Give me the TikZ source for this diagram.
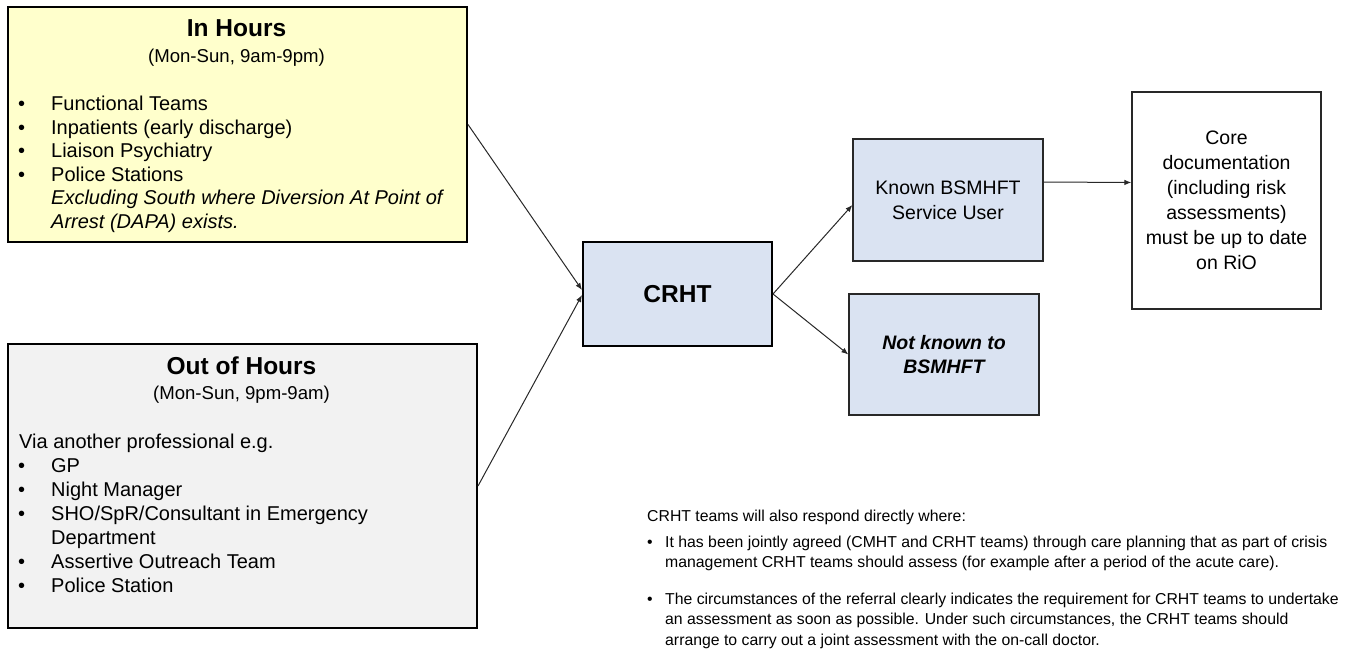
\documentclass[tikz,border=0pt]{standalone}
\usepackage{fontspec}
\setmainfont{Liberation Sans}
\usetikzlibrary{arrows.meta,calc}
\definecolor{InClr}{RGB}{255,255,204}
\definecolor{OutClr}{RGB}{242,242,242}
\definecolor{TeamClr}{RGB}{218,227,242}
\definecolor{LineClr}{RGB}{40,40,40}

\tikzset{
  panel/.style={draw=black,line width=2pt,inner sep=0pt,anchor=north west},
  unit/.style={draw=LineClr,line width=1.3pt,fill=TeamClr,inner sep=0pt,align=center,
    font=\fontsize{19.5}{25}\selectfont},
  heading/.style={anchor=base,inner sep=0pt,font=\bfseries\fontsize{24.5}{29}\selectfont},
  hours/.style={anchor=base,inner sep=0pt,font=\fontsize{18.6}{22}\selectfont},
  items/.style={anchor=base west,inner sep=0pt,font=\fontsize{20}{23.5}\selectfont},
  note/.style={anchor=base west,inner sep=0pt,font=\fontsize{15.8}{20.5}\selectfont},
  flow/.style={-{Latex[length=7pt,width=5.5pt]},draw=LineClr,line width=1pt}
}

\begin{document}
\begin{tikzpicture}[x=1pt,y=-1pt]
\useasboundingbox (0,0) rectangle (1346,658);

% referral sources
\node[panel,fill=InClr,minimum width=459,minimum height=235] (inhours) at (7,6) {};
\node[heading] (intitle) at (236.5,36.7) {In Hours};
\node[hours] (intime) at (236.5,62.7) {(Mon-Sun, 9am-9pm)};
\node[items] (inlist) at (18,110.7) {\begin{tabular}[t]{@{}p{33pt}@{}l@{}}
\textbullet & Functional Teams\\
\textbullet & Inpatients (early discharge)\\
\textbullet & Liaison Psychiatry\\
\textbullet & Police Stations\\
 & \itshape Excluding South where Diversion At Point of\\
 & \itshape Arrest (DAPA) exists.
\end{tabular}};

\node[panel,fill=OutClr,minimum width=469,minimum height=284] (outhours) at (7,343) {};
\node[heading] (outtitle) at (241.5,374.3) {Out of Hours};
\node[hours] (outtime) at (241.5,399.3) {(Mon-Sun, 9pm-9am)};
\node[items,font=\fontsize{20}{24}\selectfont] (outlist) at (18,448.3) {\begin{tabular}[t]{@{}p{33pt}@{}l@{}}
\multicolumn{2}{@{\hspace{1pt}}l@{}}{Via another professional e.g.}\\
\textbullet & GP\\
\textbullet & Night Manager\\
\textbullet & SHO/SpR/Consultant in Emergency\\
 & Department\\
\textbullet & Assertive Outreach Team\\
\textbullet & Police Station
\end{tabular}};

% team and outcomes
\node[unit,line width=2pt,draw=black,minimum width=189,minimum height=104,
  font=\bfseries\fontsize{24.5}{29}\selectfont] (crht) at (677.5,294) {CRHT};
\node[unit,minimum width=190,minimum height=122] (known) at (948,200) {Known BSMHFT\\Service User};
\node[unit,minimum width=190,minimum height=121,
  font=\bfseries\itshape\fontsize{19.5}{24.5}\selectfont] (notknown) at (944,354.5) {Not known to\\BSMHFT};
\node[unit,fill=white,minimum width=189,minimum height=217] (core) at (1226.5,200.5)
  {Core\\documentation\\(including risk\\assessments)\\must be up to date\\on RiO};

\draw[flow] (inhours.east) -- ([yshift=4pt]crht.west);
\draw[flow] (outhours.east) -- ([yshift=-1pt]crht.west);
\draw[flow] (crht.east) -- ([yshift=-5pt]known.west);
\draw[flow] (crht.east) -- (notknown.west);
\draw[flow] ([yshift=18pt]known.east) -- ([yshift=18pt]core.west);

% direct response note
\node[note] (intro) at (647,521) {CRHT teams will also respond directly where:};
\node[note] (pointa) at (647,547) {\begin{tabular}[t]{@{}p{18pt}@{}l@{}}
\textbullet & It has been jointly agreed (CMHT and CRHT teams) through care planning that as part of crisis\\
 & management CRHT teams should assess (for example after a period of the acute care).
\end{tabular}};
\node[note] (pointb) at (647,604) {\begin{tabular}[t]{@{}p{18pt}@{}l@{}}
\textbullet & The circumstances of the referral clearly indicates the requirement for CRHT teams to undertake\\
 & an assessment as soon as possible. Under such circumstances, the CRHT teams should\\
 & arrange to carry out a joint assessment with the on-call doctor.
\end{tabular}};
\end{tikzpicture}
\end{document}
